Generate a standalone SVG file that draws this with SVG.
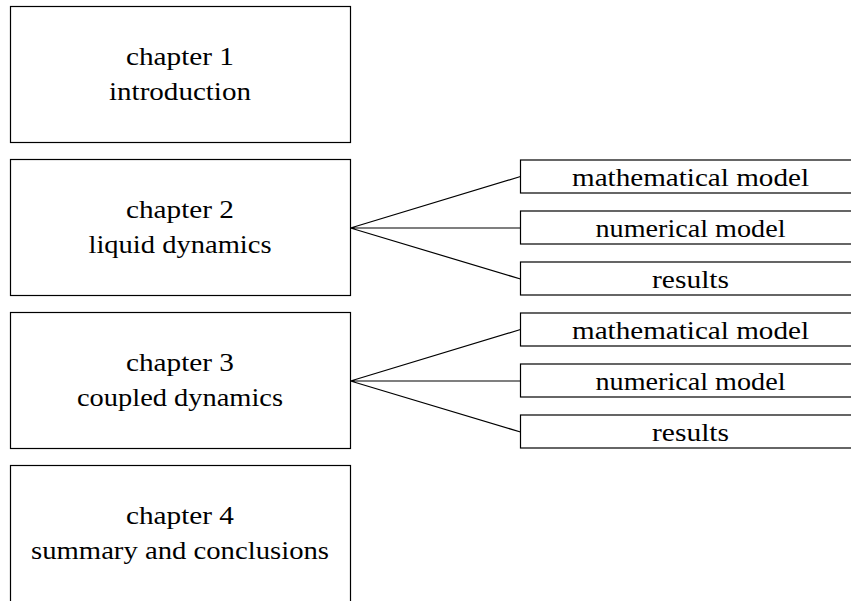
<svg xmlns="http://www.w3.org/2000/svg" width="851" height="601" viewBox="0 0 851 601">
<style>
.box{fill:#fff;stroke:#000;stroke-width:1.2}
.t{font-family:"Liberation Serif","Times New Roman",serif;font-size:25px;fill:#000;text-anchor:middle}
.c{fill:none;stroke:#000;stroke-width:1.2}
</style>
<rect width="851" height="601" fill="#fff"/>
<g id="ch1">
<rect class="box" x="10.5" y="6.5" width="340" height="136"/>
<text class="t" x="180" y="65" textLength="108" lengthAdjust="spacingAndGlyphs">chapter 1</text>
<text class="t" x="180" y="100" textLength="142" lengthAdjust="spacingAndGlyphs">introduction</text>
</g>
<g id="ch2">
<rect class="box" x="10.5" y="159.5" width="340" height="136"/>
<text class="t" x="180" y="218" textLength="108" lengthAdjust="spacingAndGlyphs">chapter 2</text>
<text class="t" x="180" y="253" textLength="183" lengthAdjust="spacingAndGlyphs">liquid dynamics</text>
</g>
<g id="ch3">
<rect class="box" x="10.5" y="312.5" width="340" height="136"/>
<text class="t" x="180" y="371" textLength="108" lengthAdjust="spacingAndGlyphs">chapter 3</text>
<text class="t" x="180" y="406" textLength="206" lengthAdjust="spacingAndGlyphs">coupled dynamics</text>
</g>
<g id="ch4">
<rect class="box" x="10.5" y="465.5" width="340" height="140"/>
<text class="t" x="180" y="524" textLength="108" lengthAdjust="spacingAndGlyphs">chapter 4</text>
<text class="t" x="180" y="559" textLength="298" lengthAdjust="spacingAndGlyphs">summary and conclusions</text>
</g>
<g id="connectors">
<path class="c" d="M350.5 228 L520.5 176.5 M350.5 228 L520.5 228 M350.5 228 L520.5 279"/>
<path class="c" d="M350.5 381 L520.5 329.5 M350.5 381 L520.5 381 M350.5 381 L520.5 432"/>
</g>
<g id="ch2-math">
<rect class="box" x="520.5" y="160" width="340" height="33"/>
<text class="t" x="690.5" y="186" textLength="237" lengthAdjust="spacingAndGlyphs">mathematical model</text>
</g>
<g id="ch2-num">
<rect class="box" x="520.5" y="211" width="340" height="33"/>
<text class="t" x="690.5" y="237" textLength="190" lengthAdjust="spacingAndGlyphs">numerical model</text>
</g>
<g id="ch2-res">
<rect class="box" x="520.5" y="262" width="340" height="33"/>
<text class="t" x="690.5" y="288" textLength="77" lengthAdjust="spacingAndGlyphs">results</text>
</g>
<g id="ch3-math">
<rect class="box" x="520.5" y="313" width="340" height="33"/>
<text class="t" x="690.5" y="339" textLength="237" lengthAdjust="spacingAndGlyphs">mathematical model</text>
</g>
<g id="ch3-num">
<rect class="box" x="520.5" y="364" width="340" height="33"/>
<text class="t" x="690.5" y="390" textLength="190" lengthAdjust="spacingAndGlyphs">numerical model</text>
</g>
<g id="ch3-res">
<rect class="box" x="520.5" y="415" width="340" height="33"/>
<text class="t" x="690.5" y="441" textLength="77" lengthAdjust="spacingAndGlyphs">results</text>
</g>
</svg>
